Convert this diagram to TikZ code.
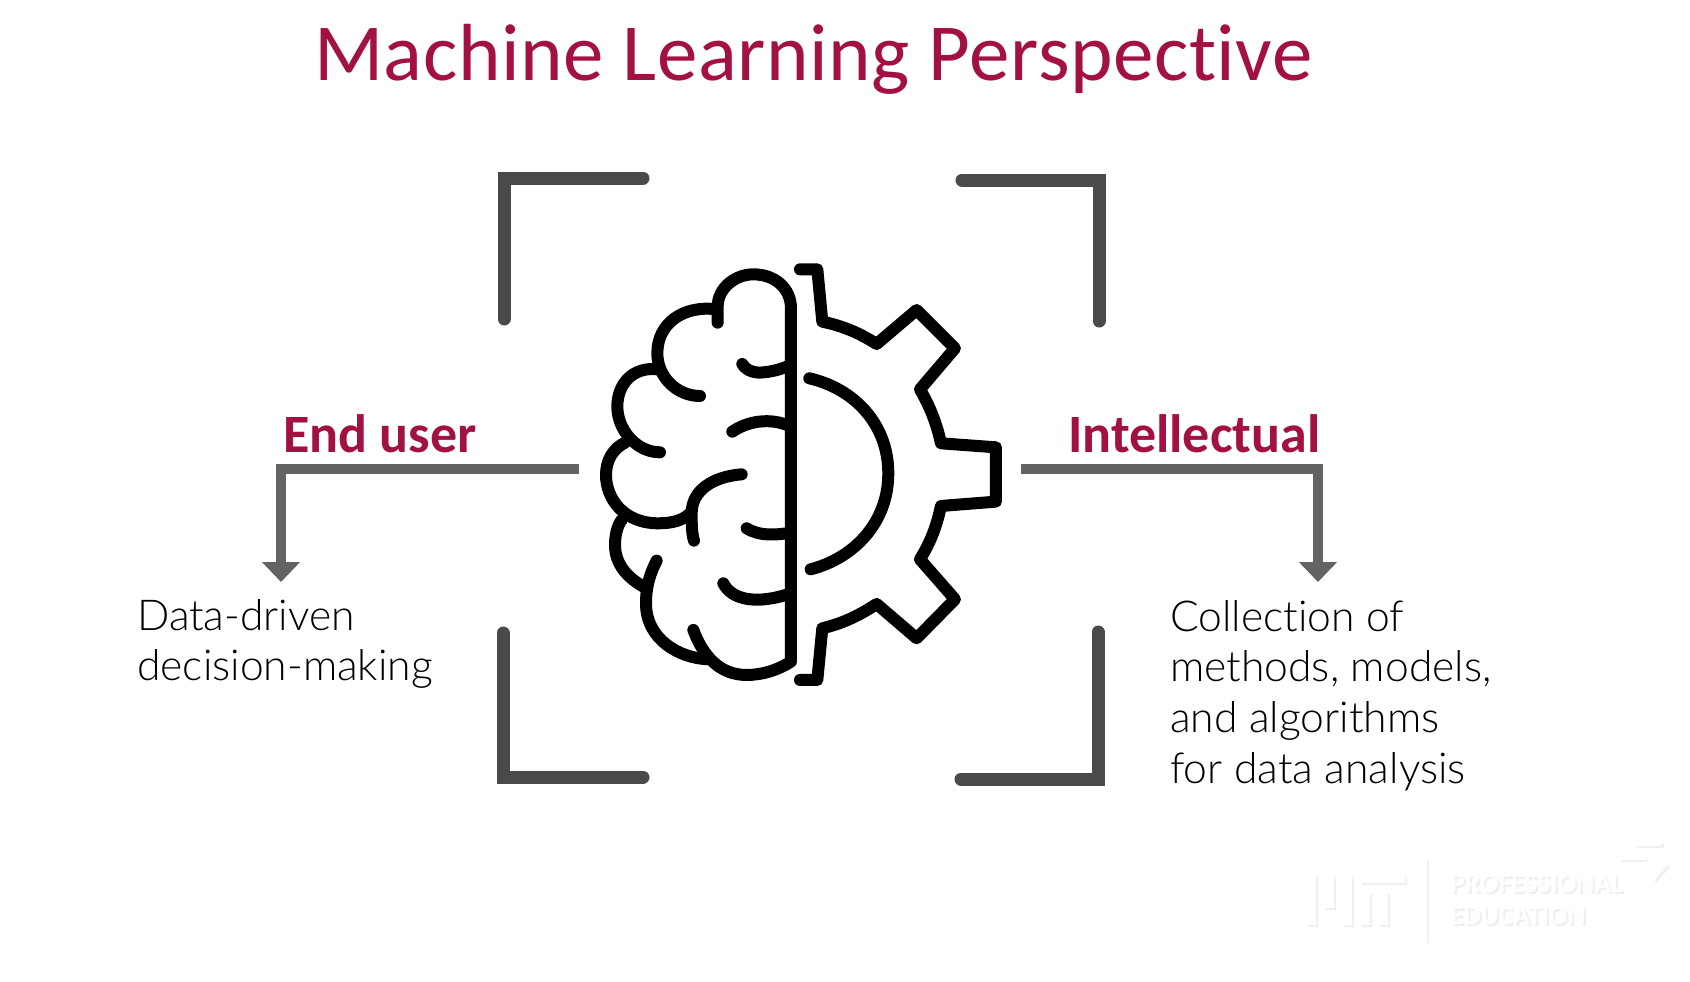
\documentclass[tikz,border=0pt]{standalone}
\usepackage{fontspec}
\setmainfont{Carlito}
\newfontfamily\lightfont{Lato Light}[Ligatures={NoCommon}]
\newfontfamily\titlefont{Carlito}[Ligatures={NoCommon},LetterSpace=0.7]
\newfontfamily\boldfont{Carlito}[BoldFont={Carlito Bold},Ligatures={NoCommon}]
\definecolor{crimson}{HTML}{A31142}
\definecolor{bracketgray}{HTML}{4A4A4C}
\definecolor{arrowgray}{HTML}{636363}
\definecolor{logoshadow}{HTML}{EFEFEF}
\usetikzlibrary{arrows.meta}
\tikzset{
  bracket/.style={draw=bracketgray,line width=13pt,line cap=round,line join=miter},
  connector/.style={draw=arrowgray,line width=9.5pt,line join=miter,-{Triangle[length=20pt,width=37pt]}},
  icon/.style={draw=black,line width=12pt,line cap=round,line join=round},
  titletext/.style={anchor=base west,inner sep=0pt,text=crimson,font=\titlefont\fontsize{81}{81}\selectfont},
  headtext/.style={anchor=base west,inner sep=0pt,text=crimson,font=\boldfont\bfseries\fontsize{54}{54}\selectfont},
  bodytext/.style={anchor=base west,inner sep=0pt,text=black,font=\lightfont\fontsize{42.6}{42.6}\selectfont},
  logotext/.style={anchor=base west,inner sep=0pt,font=\boldfont\bfseries\fontsize{27.5}{27.5}\selectfont},
}
\newcommand{\logomit}{(1306,875) rectangle (1316,925) (1324,875) rectangle (1334,908) (1342,875) rectangle (1352,925) (1360,892) rectangle (1370,925) (1378,892) rectangle (1388,925) (1360,875) rectangle (1405,883)}
\newcommand{\logostar}{(1635,842) rectangle (1662,846) (1620,856) rectangle (1647,860) (1646,858) -- (1668,865) -- (1654,881) -- cycle}
\begin{document}
\begin{tikzpicture}[x=1pt,y=-1pt]
\useasboundingbox (0,0) rectangle (1690,982);
\fill[white] (0,0) rectangle (1690,982);

\node[titletext] (title) at (314,81) {Machine Learning Perspective};
\node[headtext] (enduser) at (283,452) {End user};
\node[headtext] (intel) at (1068,452) {Intellectual};
\node[bodytext] (d1) at (137,630) {Data-driven};
\node[bodytext] (d2) at (137,680) {decision-making};
\node[bodytext] (c1) at (1170,631) {Collection of};
\node[bodytext] (c2) at (1170,681) {methods, models,};
\node[bodytext] (c3) at (1170,732) {and algorithms};
\node[bodytext] (c4) at (1170,783) {for data analysis};

% brackets
\draw[bracket] (504,319) -- (504,178) -- (643,178);
\draw[bracket] (962,180) -- (1099,180) -- (1099,321);
\draw[bracket] (503,633) -- (503,777) -- (643,777);
\draw[bracket] (961,779) -- (1098,779) -- (1098,632);

% connectors
\coordinate (lstart) at (579,469);
\coordinate (lbend) at (281,469);
\coordinate (lend) at (281,582);
\coordinate (rstart) at (1021,469);
\coordinate (rbend) at (1318,469);
\coordinate (rend) at (1318,582);
\draw[connector] (lstart) -- (lbend) -- (lend);
\draw[connector] (rstart) -- (rbend) -- (rend);

% brain and gear icon (zoomed coordinates)
\begin{scope}[shift={(580,250)},x=0.3333pt,y=-0.3333pt]
\draw[icon] (413,218) -- (413,170) .. controls (413,115) and (465,73) .. (520,73) .. controls (585,73) and (633,115) .. (633,175) -- (633,1235) .. controls (590,1262) and (545,1275) .. (500,1275) .. controls (420,1275) and (370,1220) .. (340,1140);
\draw[icon] (410,178) .. controls (310,165) and (232,220) .. (232,310) .. controls (232,380) and (290,438) .. (360,438);
\draw[icon] (232,358) .. controls (160,350) and (112,400) .. (112,470) .. controls (112,540) and (170,607) .. (240,607);
\draw[icon] (135,578) .. controls (100,595) and (78,630) .. (78,675) .. controls (78,745) and (130,820) .. (235,820) .. controls (280,820) and (310,810) .. (330,790);
\draw[icon] (485,673) .. controls (400,680) and (335,720) .. (335,790) .. controls (335,820) and (335,850) .. (342,872);
\draw[icon] (125,810) .. controls (110,830) and (105,860) .. (105,885) .. controls (105,940) and (140,985) .. (200,1015);
\draw[icon] (230,932) .. controls (205,980) and (198,1020) .. (198,1060) .. controls (198,1170) and (300,1225) .. (385,1228);
\draw[icon] (487,342) .. controls (500,365) and (530,370) .. (550,367) .. controls (580,365) and (610,355) .. (633,345);
\draw[icon] (457,545) .. controls (500,515) and (570,500) .. (633,530);
\draw[icon] (500,835) .. controls (540,860) and (590,855) .. (633,848);
\draw[icon] (430,1000) .. controls (455,1050) and (530,1065) .. (633,1030);
% gear
\draw[icon] (660,58) -- (712,58) -- (727,215) .. controls (790,228) and (840,250) .. (890,282) -- (1010,180) -- (1125,295) -- (1020,418) .. controls (1050,470) and (1070,520) .. (1083,580) -- (1248,592) -- (1248,755) -- (1083,768) .. controls (1070,830) and (1050,880) .. (1020,928) -- (1125,1048) -- (1010,1165) -- (890,1062) .. controls (840,1095) and (790,1120) .. (727,1135) -- (712,1290) -- (660,1290);
\draw[icon] (688,385) .. controls (820,415) and (925,520) .. (925,670) .. controls (925,820) and (820,925) .. (692,958);
\end{scope}

% faint logo
\node[logotext,text=logoshadow] at (1452,894) {PROFESSIONAL};
\node[logotext,text=white] (lp) at (1450,892) {PROFESSIONAL};
\node[logotext,text=logoshadow] at (1452,926) {EDUCATION};
\node[logotext,text=white] (le) at (1450,924) {EDUCATION};
\draw[logoshadow,line width=1.5pt] (1428,860) -- (1428,943);
\begin{scope}[shift={(2,2)}]
\fill[logoshadow] \logomit;
\fill[logoshadow] \logostar;
\end{scope}
\fill[white] \logomit;
\fill[white] \logostar;
\end{tikzpicture}
\end{document}
